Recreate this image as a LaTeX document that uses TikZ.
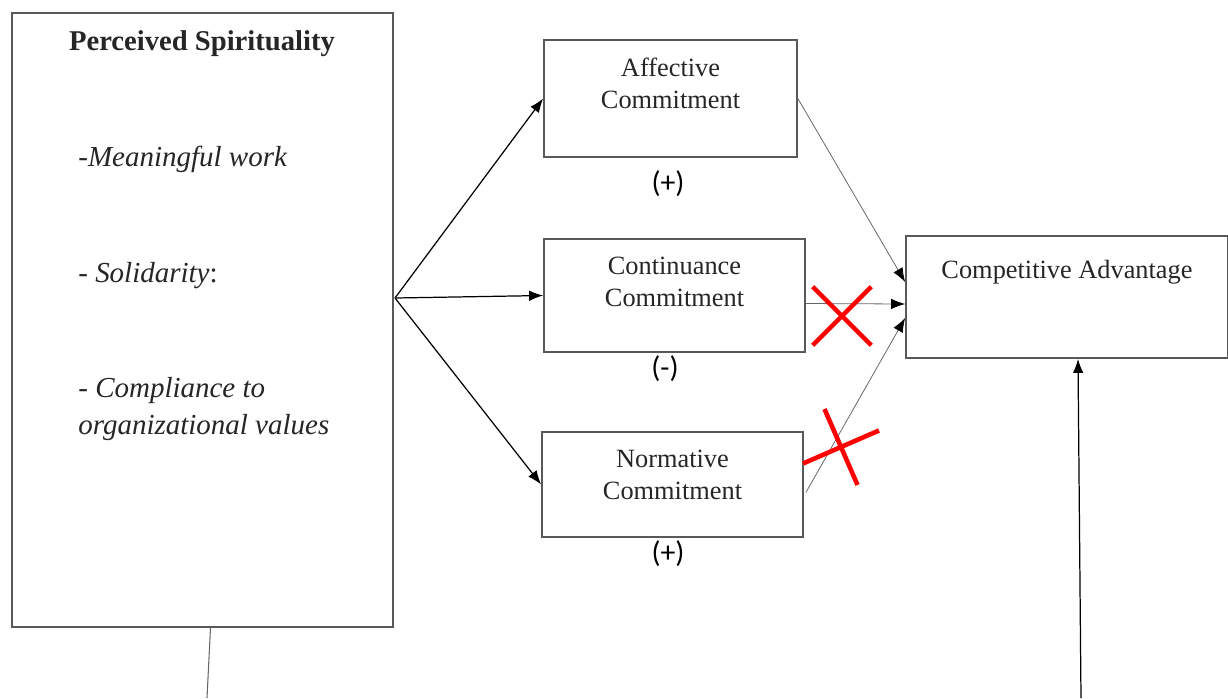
\documentclass[tikz,border=0pt]{standalone}
\usepackage{fontspec}
\setmainfont{Liberation Serif}
\newfontfamily\signfont{Carlito}
\usetikzlibrary{positioning,shapes,shapes.misc,arrows.meta,calc}
\tikzstyle{outer}=[rectangle, draw=black!65, line width=1pt, fill=white, inner sep=0pt]
\tikzstyle{core}=[rectangle, draw=black!65, line width=1pt, fill=white, inner sep=0pt]
\tikzstyle{boxtext}=[align=center, inner sep=0pt, text=black!85, font=\fontsize{15}{18.2}\selectfont]
\tikzstyle{item}=[anchor=west, align=left, inner sep=0pt, text=black!85, font=\fontsize{16.5}{21}\selectfont\itshape]
\tikzstyle{sign}=[inner sep=0pt, font=\fontsize{17}{20}\signfont]
\tikzstyle{crossmark}=[cross out, draw=red, line width=2.6pt, minimum size=1.08cm, inner sep=0pt]
\tikzstyle{myarrow}=[-{Latex[length=8pt,width=6pt]}, line width=0.7pt]
\tikzstyle{thinarrow}=[-{Latex[length=8pt,width=6pt,black]}, line width=0.45pt, draw=black!60]
\tikzstyle{thinline}=[line width=0.6pt, draw=black!60]

\begin{document}
\begin{tikzpicture}[x=0.02cm, y=-0.02cm]
        \useasboundingbox (0,0) rectangle (1228,698);

        % Perceived spirituality
        \node (spirit) [outer, minimum width=7.62cm, minimum height=12.28cm] at (202.5,320) {};
        \node (title) [inner sep=0pt, text=black!85, font=\fontsize{16.3}{20}\selectfont\bfseries] at (202,44) {Perceived Spirituality};
        \node (meaning) [item] at (78,159) {-Meaningful work};
        \node (solid) [item] at (78,276) {- Solidarity{\upshape :}};
        \node (comply) [item] at (78,409) {- Compliance to\\organizational values};

        % Commitments
        \node (aff) [core, minimum width=5.06cm, minimum height=2.34cm] at (670.5,98.5) {};
        \node (affTxt) [boxtext, below=0.36cm of aff.north] {Affective\\Commitment};

        \node (cont) [core, minimum width=5.22cm, minimum height=2.26cm] at (674.5,295.5) {};
        \node (contTxt) [boxtext, below=0.37cm of cont.north] {Continuance\\Commitment};

        \node (norm) [core, minimum width=5.22cm, minimum height=2.1cm] at (672.5,484.5) {};
        \node (normTxt) [boxtext, below=0.37cm of norm.north] {Normative\\Commitment};

        \node (s1) [sign] at (668,184) {(+)};
        \node (s2) [sign] at (665,369) {(-)};
        \node (s3) [sign] at (668,554) {(+)};

        % Competitive advantage
        \node (ca) [core, minimum width=6.44cm, minimum height=2.44cm] at (1067,297) {};
        \node (caTxt) [boxtext, below=0.5cm of ca.north] {Competitive Advantage};

        %Arrows
        \coordinate (src) at (395,298);
        \draw[myarrow] (src) -- (aff.west);
        \draw[myarrow] (src) -- (cont.west);
        \draw[myarrow] (src) -- (norm.west);

        \draw[thinarrow] (aff.east) -- ($(ca.west)+(0,-15)$);
        \draw[thinarrow] ($(cont.east)+(0,8)$) -- ($(ca.west)+(0,7)$);
        \draw[thinarrow] ($(norm.east)+(2,8)$) -- ($(ca.west)+(0,21)$);

        \coordinate (spiritOut) at (207,698);
        \draw[thinline] ($(spirit.south)+(8,0)$) -- (spiritOut);
        \coordinate (caIn) at (1081,698);
        \draw[myarrow] (caIn) -- ($(ca.south)+(11,0)$);

        % crossed out links
        \node (xcont) [crossmark] at (842,316) {};
        \node (xnorm) [crossmark, rotate=-21.5] at (841,447) {};

\end{tikzpicture}
\end{document}
